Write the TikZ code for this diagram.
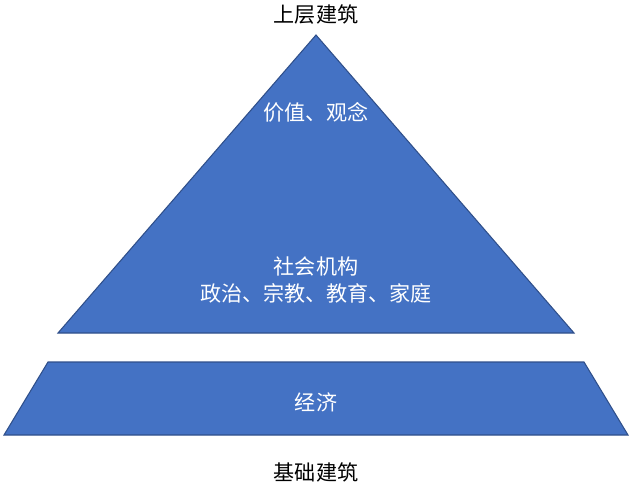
\documentclass[tikz,border=0pt]{standalone}
\usepackage{fontspec}
\setmainfont{Noto Sans CJK SC}
\usetikzlibrary{positioning}
\definecolor{layerblue}{HTML}{4472C4}
\definecolor{layeredge}{HTML}{2F4F8A}
\tikzset{
    layer/.style={fill=layerblue, draw=layeredge, line width=0.6pt},
    intext/.style={text=white, font=\fontsize{12}{15.5}\selectfont, align=center},
    outtext/.style={text=black, font=\fontsize{12}{15.5}\selectfont}
}
\begin{document}
\begin{tikzpicture}[x=0.02cm, y=-0.02cm]
\useasboundingbox (0,0) rectangle (632,494);
% upper pyramid and base
\draw[layer] (316,35) -- (574,333) -- (58,333) -- cycle;
\draw[layer] (48,362) -- (584,362) -- (628,435) -- (4,435) -- cycle;
% labels
\node[outtext] (top) at (316,15) {上层建筑};
\node[outtext] (bottom) at (316,472) {基础建筑};
\node[intext] (values) at (316,112) {价值、观念};
\node[intext] (inst) at (316,280) {社会机构\\政治、宗教、教育、家庭};
\node[intext] (econ) at (316,402) {经济};
\end{tikzpicture}
\end{document}
